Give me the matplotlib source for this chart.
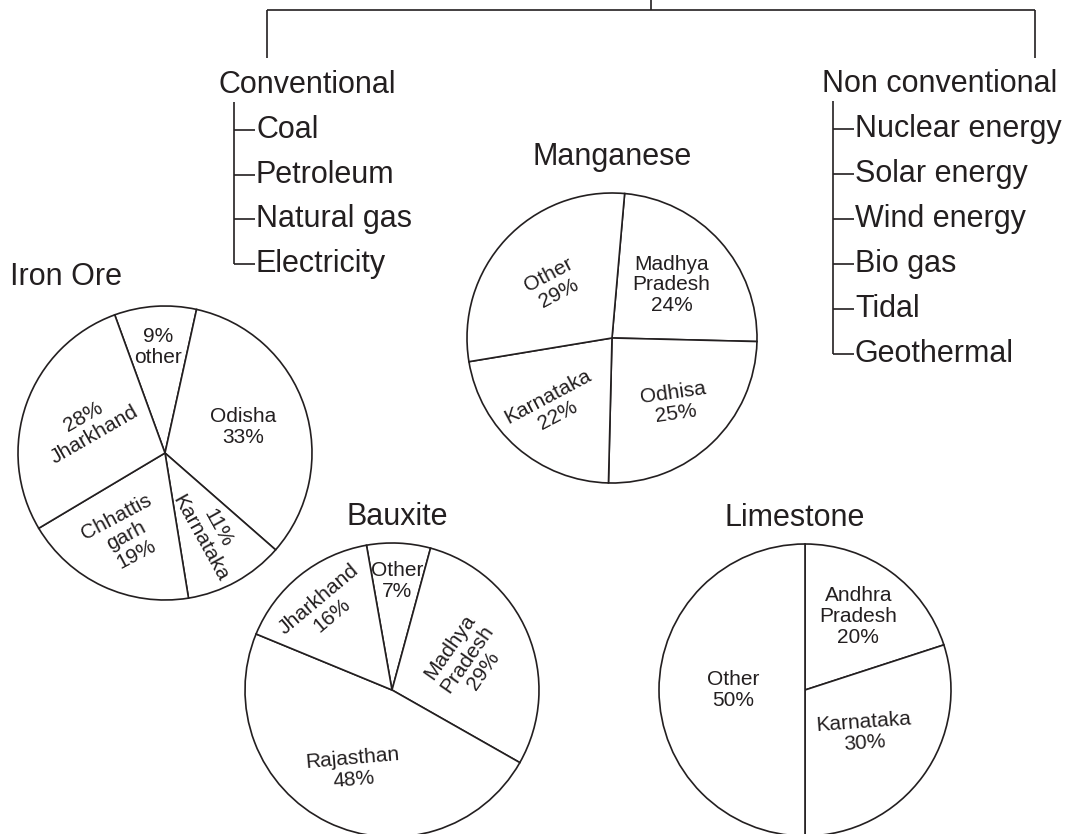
import matplotlib.pyplot as plt
import numpy as np

plt.rcParams['font.family'] = ['Liberation Sans', 'DejaVu Sans']

W, H = 1078, 834
INK = '#231f20'

# energy resources tree
branches = ["Conventional", "Non conventional"]
conventional = ["Coal", "Petroleum", "Natural gas", "Electricity"]
non_conventional = ["Nuclear energy", "Solar energy", "Wind energy",
                    "Bio gas", "Tidal", "Geothermal"]

# mineral shares (%), listed clockwise
iron_names = ["other", "Odisha", "Karnataka", "Chhattis\ngarh", "Jharkhand"]
iron_shares = [9, 33, 11, 19, 28]
iron_pct_first = [True, False, True, False, True]

manganese_names = ["Madhya\nPradesh", "Odhisa", "Karnataka", "Other"]
manganese_shares = [24, 25, 22, 29]

bauxite_names = ["Other", "Madhya\nPradesh", "Rajasthan", "Jharkhand"]
bauxite_shares = [7, 29, 48, 16]

limestone_names = ["Andhra\nPradesh", "Karnataka", "Other"]
limestone_shares = [20, 30, 50]

fig = plt.figure(figsize=(W / 100, H / 100), dpi=100)
ax = fig.add_axes([0, 0, 1, 1])


def Y(py):
    # pixel rows are counted from the top
    return H - py


def draw_pie(title, names, shares, pct_first, cx, cy, r, start,
             title_x, title_y, title_ha, fracs, rots):
    wedges, _ = ax.pie(shares, startangle=start, counterclock=False,
                       radius=r, center=(cx, Y(cy)),
                       colors=['white'] * len(shares),
                       wedgeprops=dict(edgecolor=INK, linewidth=1.2))
    for w, name, v, first, f, rot in zip(wedges, names, shares, pct_first, fracs, rots):
        mid = np.deg2rad((w.theta1 + w.theta2) / 2)
        x = cx + f * r * np.cos(mid)
        y = Y(cy) + f * r * np.sin(mid)
        txt = f"{v}%\n{name}" if first else f"{name}\n{v}%"
        ax.text(x, y, txt, ha='center', va='center', rotation=rot,
                rotation_mode='anchor', fontsize=15, linespacing=1.12, color=INK)
    ax.text(title_x, Y(title_y), title, ha=title_ha, va='baseline',
            fontsize=22, color=INK)


draw_pie("Iron Ore", iron_names, iron_shares, iron_pct_first,
         165, 453, 147, 110, 10, 285, 'left',
         [0.72, 0.56, 0.62, 0.62, 0.55], [0, 0, -61, 28, 30])
draw_pie("Manganese", manganese_names, manganese_shares, [False] * 4,
         612, 338, 145, 85, 612, 165, 'center',
         [0.55, 0.62, 0.62, 0.55], [0, 8, 28, 28])
draw_pie("Bauxite", bauxite_names, bauxite_shares, [False] * 4,
         392, 690, 147, 100, 397, 525, 'center',
         [0.74, 0.55, 0.6, 0.72], [0, 55, 5, 40])
draw_pie("Limestone", limestone_names, limestone_shares, [False] * 3,
         805, 690, 146, 90, 795, 526, 'center',
         [0.62, 0.5, 0.49], [0, 4, 0])

# top bracket
line = dict(color=INK, linewidth=1.2, solid_capstyle='butt')
ax.plot([651, 651], [Y(0), Y(10)], **line)
ax.plot([267, 1035], [Y(10), Y(10)], **line)
ax.plot([267, 267], [Y(10), Y(58)], **line)
ax.plot([1035, 1035], [Y(10), Y(58)], **line)


def draw_branch(head, items, head_x, head_y, stem_x, step):
    ax.text(head_x, Y(head_y), head, ha='left', va='baseline', fontsize=22, color=INK)
    base = [head_y + 45 + i * step for i in range(len(items))]
    ticks = [b - 8 for b in base]
    ax.plot([stem_x, stem_x], [Y(head_y + 9), Y(ticks[-1])], **line)
    for b, t, item in zip(base, ticks, items):
        ax.plot([stem_x, stem_x + 21], [Y(t), Y(t)], **line)
        ax.text(stem_x + 22, Y(b), item, ha='left', va='baseline', fontsize=22, color=INK)


draw_branch(branches[0], conventional, 219, 93, 234, 44.5)
draw_branch(branches[1], non_conventional, 822, 92, 833, 45)

ax.set_xlim(0, W)
ax.set_ylim(0, H)
ax.set_aspect('equal')
ax.axis('off')

fig.savefig('out.png', dpi=100, facecolor='white')
